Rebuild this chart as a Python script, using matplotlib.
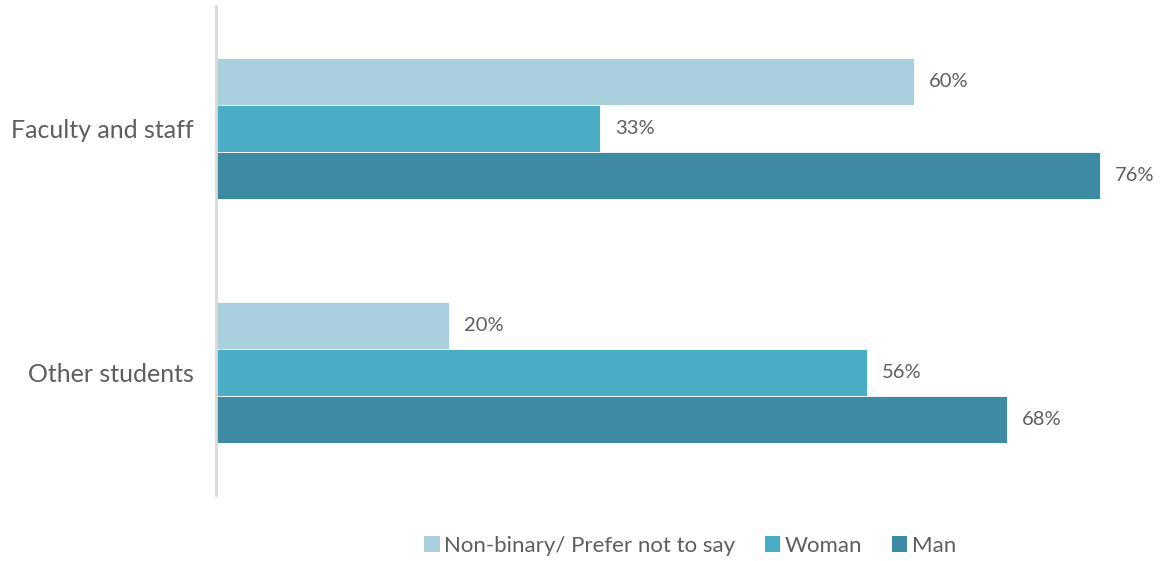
import matplotlib
matplotlib.use("Agg")
import matplotlib.pyplot as plt
from matplotlib.patches import Patch
import numpy as np

categories = ["Faculty and staff", "Other students"]
series_names = ["Non-binary/ Prefer not to say", "Woman", "Man"]
nonbinary = [60, 20]
woman = [33, 56]
man = [76, 68]
colors = ["#A9CFDD", "#4BACC6", "#3C8BA3"]

plt.rcParams["font.family"] = ["Lato", "DejaVu Sans"]
text_color = "#5E5E5E"

fig = plt.figure(figsize=(11.6, 5.61), dpi=100)
ax = fig.add_axes([0.1862, 0.1176, 0.802, 0.8717])

y = np.arange(len(categories))
bar_h = 0.192
offsets = [-bar_h, 0, bar_h]
for vals, off, col, name in zip([nonbinary, woman, man], offsets, colors, series_names):
    bars = ax.barh(y + off, vals, height=bar_h, color=col, edgecolor="white",
                   linewidth=0.6, label=name)
    for b, v in zip(bars, vals):
        ax.annotate(f"{v}%", (b.get_width(), b.get_y() + b.get_height() / 2),
                    xytext=(15, 0), textcoords="offset pixels",
                    va="center", ha="left", fontsize=14.5, color=text_color)

ax.set_xlim(0, 80)
ax.set_ylim(1.5, -0.5)
ax.set_yticks(y)
ax.set_yticklabels(categories, fontsize=18, color=text_color)
ax.tick_params(axis="y", length=0, pad=16)
ax.set_xticks([])
for s in ["top", "right", "bottom"]:
    ax.spines[s].set_visible(False)
ax.spines["left"].set_color("#D9D9D9")
ax.spines["left"].set_linewidth(2)

handles = [Patch(facecolor=c, edgecolor="none") for c in colors]
fig.legend(handles, series_names, loc="center", bbox_to_anchor=(0.595, 0.027),
           ncol=3, frameon=False, handlelength=0.7, handleheight=0.7,
           handletextpad=0.2, columnspacing=1.33, labelcolor=text_color,
           prop={"size": 16})

fig.savefig("out.png", dpi=100)
